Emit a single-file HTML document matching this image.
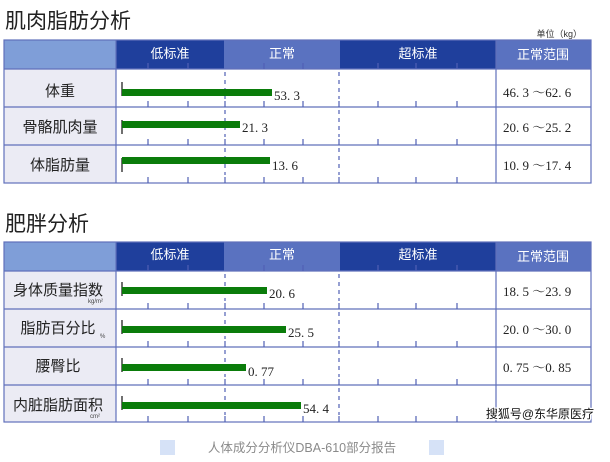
<!DOCTYPE html>
<html><head><meta charset="utf-8"><style>
html,body{margin:0;padding:0;background:#fff;width:610px;height:462px;overflow:hidden}
svg{display:block}
.t{font-family:"Liberation Sans","Noto Sans CJK SC",sans-serif}
.s{font-family:"Liberation Serif","Noto Serif CJK SC",serif}
</style></head><body>
<svg width="610" height="462" viewBox="0 0 610 462" xmlns="http://www.w3.org/2000/svg">
<text x="5" y="28" class="t" font-size="21" fill="#222">肌肉脂肪分析</text>
<text x="582" y="37" class="t" font-size="9" fill="#333" text-anchor="end">单位（kg）</text>
<text x="5" y="231" class="t" font-size="21" fill="#222">肥胖分析</text>

<g>
<rect x="4" y="40" width="112" height="29" fill="#7f9ed8"/>
<rect x="116" y="40" width="108" height="29" fill="#1f3f9c"/>
<rect x="224" y="40" width="116" height="29" fill="#5a72c0"/>
<rect x="340" y="40" width="156" height="29" fill="#1f3f9c"/>
<rect x="496" y="40" width="95" height="29" fill="#5a72c0"/>
<rect x="4" y="69" width="112" height="114" fill="#ebebf4"/>
<g class="t" font-size="13" fill="#fff" text-anchor="middle">
<text x="170" y="58">低标准</text><text x="282" y="58">正常</text><text x="418" y="58">超标准</text><text x="543" y="59">正常范围</text></g>
<g stroke="#6070bb" stroke-width="1.2" fill="none">
<rect x="4" y="40" width="587" height="143"/>
<line x1="4" y1="69" x2="591" y2="69"/><line x1="4" y1="107" x2="591" y2="107"/><line x1="4" y1="145" x2="591" y2="145"/>
<line x1="116" y1="40" x2="116" y2="183"/><line x1="496" y1="40" x2="496" y2="183"/>
</g>
<g stroke="#5060b5" stroke-width="1.2">
<path d="M148 63v6M188 63v6M264 63v6M303 63v6M378 63v6M416 63v6M457 63v6"/>
<path d="M148 101v6M188 101v6M225 101v6M264 101v6M303 101v6M339 101v6M378 101v6M416 101v6M457 101v6"/>
<path d="M148 139v6M188 139v6M225 139v6M264 139v6M303 139v6M339 139v6M378 139v6M416 139v6M457 139v6"/>
<path d="M148 177v6M188 177v6M225 177v6M264 177v6M303 177v6M339 177v6M378 177v6M416 177v6M457 177v6"/>
<path d="M225 72v27M339 72v27M225 110v27M339 110v27M225 148v27M339 148v27" stroke-dasharray="4,4"/>
</g>
<g stroke="#222" stroke-width="1.3"><path d="M122 82v14M122 120v14M122 158v14"/></g>
<g fill="#0a7c0a"><rect x="122" y="89" width="150" height="7"/><rect x="122" y="121" width="118" height="7"/><rect x="122" y="157" width="148" height="7"/></g>
<g class="s" font-size="13" fill="#222"><text x="274" y="100">53. 3</text><text x="242" y="132">21. 3</text><text x="272" y="170">13. 6</text>
<text x="503" y="97">46. 3 ～62. 6</text><text x="503" y="132">20. 6 ～25. 2</text><text x="503" y="170">10. 9 ～17. 4</text></g>
<g class="t" font-size="15" fill="#222" text-anchor="middle"><text x="60" y="96">体重</text><text x="60" y="132">骨骼肌肉量</text><text x="60" y="170">体脂肪量</text></g>
</g>

<g>
<rect x="4" y="242" width="112" height="29" fill="#7f9ed8"/>
<rect x="116" y="242" width="108" height="29" fill="#1f3f9c"/>
<rect x="224" y="242" width="116" height="29" fill="#5a72c0"/>
<rect x="340" y="242" width="156" height="29" fill="#1f3f9c"/>
<rect x="496" y="242" width="95" height="29" fill="#5a72c0"/>
<rect x="4" y="271" width="112" height="151" fill="#ebebf4"/>
<g class="t" font-size="13" fill="#fff" text-anchor="middle">
<text x="170" y="259">低标准</text><text x="282" y="259">正常</text><text x="418" y="259">超标准</text><text x="543" y="261">正常范围</text></g>
<g stroke="#6070bb" stroke-width="1.2" fill="none">
<rect x="4" y="242" width="587" height="180"/>
<line x1="4" y1="271" x2="591" y2="271"/><line x1="4" y1="309" x2="591" y2="309"/><line x1="4" y1="347" x2="591" y2="347"/><line x1="4" y1="385" x2="591" y2="385"/>
<line x1="116" y1="242" x2="116" y2="422"/><line x1="496" y1="242" x2="496" y2="422"/>
</g>
<g stroke="#5060b5" stroke-width="1.2">
<path d="M148 265v6M188 265v6M264 265v6M303 265v6M378 265v6M416 265v6M457 265v6"/>
<path d="M148 303v6M188 303v6M225 303v6M264 303v6M303 303v6M339 303v6M378 303v6M416 303v6M457 303v6"/>
<path d="M148 341v6M188 341v6M225 341v6M264 341v6M303 341v6M339 341v6M378 341v6M416 341v6M457 341v6"/>
<path d="M148 379v6M188 379v6M225 379v6M264 379v6M303 379v6M339 379v6M378 379v6M416 379v6M457 379v6"/>
<path d="M148 416v6M188 416v6M225 416v6M264 416v6M303 416v6M339 416v6M378 416v6M416 416v6M457 416v6"/>
<path d="M225 274v27M339 274v27M225 312v27M339 312v27M225 350v27M339 350v27M225 388v27M339 388v27" stroke-dasharray="4,4"/>
</g>
<g stroke="#222" stroke-width="1.3"><path d="M122 282v14M122 320v14M122 358v14M122 396v14"/></g>
<g fill="#0a7c0a"><rect x="122" y="287" width="145" height="7"/><rect x="122" y="326" width="164" height="7"/><rect x="122" y="364" width="124" height="7"/><rect x="122" y="402" width="179" height="7"/></g>
<g class="s" font-size="13" fill="#222"><text x="269" y="298">20. 6</text><text x="288" y="337">25. 5</text><text x="248" y="376">0. 77</text><text x="303" y="413">54. 4</text>
<text x="503" y="296">18. 5 ～23. 9</text><text x="503" y="334">20. 0 ～30. 0</text><text x="503" y="372">0. 75 ～0. 85</text></g>
<g class="t" font-size="15" fill="#222" text-anchor="middle"><text x="58" y="295">身体质量指数</text><text x="58" y="333">脂肪百分比</text><text x="58" y="371">腰臀比</text><text x="58" y="410">内脏脂肪面积</text></g>
<g class="t" font-size="6" fill="#444"><text x="88" y="303">kg/m²</text><text x="100" y="338">%</text><text x="90" y="418">cm²</text></g>
<text x="594" y="418" class="t" font-size="12" fill="#111" stroke="#fff" stroke-width="2.5" paint-order="stroke" text-anchor="end">搜狐号@东华原医疗</text>
</g>

<rect x="160" y="440" width="15" height="15" fill="#d6e2f7"/>
<rect x="429" y="440" width="15" height="15" fill="#d6e2f7"/>
<text x="302" y="452" class="t" font-size="12.5" fill="#8a8a8a" text-anchor="middle">人体成分分析仪DBA-610部分报告</text>
</svg>
</body></html>
